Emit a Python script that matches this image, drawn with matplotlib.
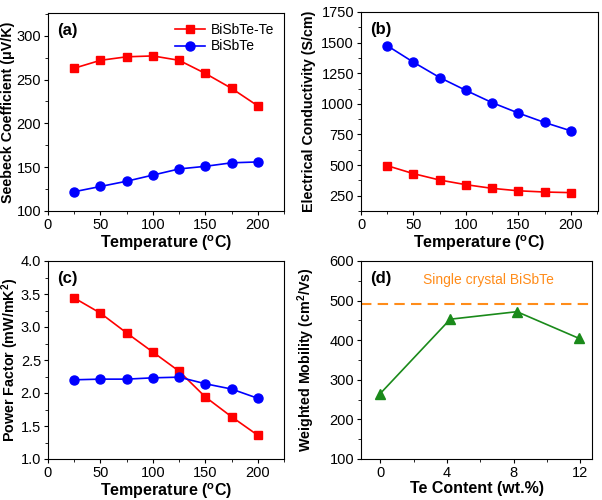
import numpy as np
import matplotlib.pyplot as plt
from matplotlib.ticker import AutoMinorLocator

plt.rcParams['font.family'] = ['Liberation Sans', 'DejaVu Sans']
plt.rcParams['font.size'] = 11
plt.rcParams['mathtext.fontset'] = 'custom'
plt.rcParams['mathtext.bf'] = 'Liberation Sans:bold'
plt.rcParams['mathtext.rm'] = 'Liberation Sans'

# datos
temp = [25, 50, 75, 100, 125, 150, 175, 200]
seebeck_te = [263, 272, 276, 277, 272, 257, 240, 220]
seebeck = [122, 128, 134, 141, 148, 151, 155, 156]
sigma_te = [495, 430, 378, 340, 310, 290, 280, 275]
sigma = [1475, 1340, 1215, 1110, 1010, 925, 848, 780]
pf_te = [3.44, 3.21, 2.91, 2.62, 2.33, 1.94, 1.64, 1.36]
pf = [2.20, 2.21, 2.21, 2.23, 2.24, 2.14, 2.06, 1.92]
te_content = [0, 4.2, 8.2, 11.9]
mu_w = [265, 453, 472, 405]
mu_single = 492

fig = plt.figure(figsize=(6.02, 5.0), dpi=100)
W, H = 602, 500
def ax_px(l, t, r, b):
    return fig.add_axes([l / W, 1 - b / H, (r - l) / W, (b - t) / H])

axa = ax_px(48, 13, 284, 211)
axb = ax_px(361, 12, 598, 211)
axc = ax_px(48, 261, 284, 459)
axd = ax_px(361, 261, 592, 459)

red = '#ff0000'
blue = '#0000ff'
green = '#1a8a1a'

for ax in (axa, axb, axc, axd):
    ax.tick_params(direction='out', length=3, width=0.8, labelsize=10.5, pad=2)
    ax.tick_params(which='minor', direction='out', length=2, width=0.6)
    ax.xaxis.set_minor_locator(AutoMinorLocator(2))
    ax.yaxis.set_minor_locator(AutoMinorLocator(2))
    for s in ax.spines.values():
        s.set_linewidth(0.8)

xlab = dict(fontsize=11.5, fontweight='bold', labelpad=1)
ylab = dict(fontsize=10.3, fontweight='bold')
tlab = 'Temperature ($\\mathbf{^o}$C)'

# (a)
axa.plot(temp, seebeck_te, '-s', color=red, ms=6, lw=1.2, label='BiSbTe-Te')
axa.plot(temp, seebeck, '-o', color=blue, ms=6.5, lw=1.2, label='BiSbTe')
axa.set_xlim(0, 225)
axa.set_ylim(100, 326)
axa.set_xticks([0, 50, 100, 150, 200])
axa.set_yticks([100, 150, 200, 250, 300])
axa.set_xlabel(tlab, **xlab)
axa.set_ylabel('Seebeck Coefficient (\u03bcV/K)', **ylab)
axa.yaxis.set_label_coords(-0.14, 0.5)
axa.legend(loc='upper right', frameon=False, fontsize=10, handlelength=2.2,
           borderpad=0.2, labelspacing=0.2, handletextpad=0.4)
axa.text(0.04, 0.95, '(a)', transform=axa.transAxes, fontweight='bold', fontsize=12, va='top')

# (b)
axb.plot(temp, sigma, '-o', color=blue, ms=6.5, lw=1.2)
axb.plot(temp, sigma_te, '-s', color=red, ms=6, lw=1.2)
axb.set_xlim(0, 226)
axb.set_ylim(125, 1750)
axb.set_xticks([0, 50, 100, 150, 200])
axb.set_yticks([250, 500, 750, 1000, 1250, 1500, 1750])
axb.set_xlabel(tlab, **xlab)
axb.set_ylabel('Electrical Conductivity (S/cm)', **ylab)
axb.yaxis.set_label_coords(-0.19, 0.5)
axb.text(0.04, 0.95, '(b)', transform=axb.transAxes, fontweight='bold', fontsize=12, va='top')

# (c)
axc.plot(temp, pf_te, '-s', color=red, ms=6, lw=1.2)
axc.plot(temp, pf, '-o', color=blue, ms=6.5, lw=1.2)
axc.set_xlim(0, 225)
axc.set_ylim(1.0, 4.0)
axc.set_xticks([0, 50, 100, 150, 200])
axc.set_yticks(np.arange(1.0, 4.01, 0.5))
axc.set_xlabel(tlab, **xlab)
axc.set_ylabel('Power Factor (mW/mK$\\mathbf{^2}$)', **ylab)
axc.yaxis.set_label_coords(-0.115, 0.5)
axc.text(0.04, 0.95, '(c)', transform=axc.transAxes, fontweight='bold', fontsize=12, va='top')

# (d)
axd.axhline(mu_single, color='#ff8c1a', ls=(0, (5, 3)), lw=1.5)
axd.plot(te_content, mu_w, '-^', color=green, ms=7, lw=1.2)
axd.set_xlim(-1.15, 12.7)
axd.set_ylim(100, 600)
axd.set_xticks([0, 4, 8, 12])
axd.set_yticks([100, 200, 300, 400, 500, 600])
axd.set_xlabel('Te Content (wt.%)', **xlab)
axd.set_ylabel('Weighted Mobility (cm$\\mathbf{^2}$/Vs)', **ylab)
axd.yaxis.set_label_coords(-0.19, 0.5)
axd.text(0.04, 0.95, '(d)', transform=axd.transAxes, fontweight='bold', fontsize=12, va='top')
axd.text(0.55, 0.905, 'Single crystal BiSbTe', transform=axd.transAxes, color='#ff8c1a',
         fontsize=10, ha='center', va='center')

fig.savefig('out.png', dpi=100)
